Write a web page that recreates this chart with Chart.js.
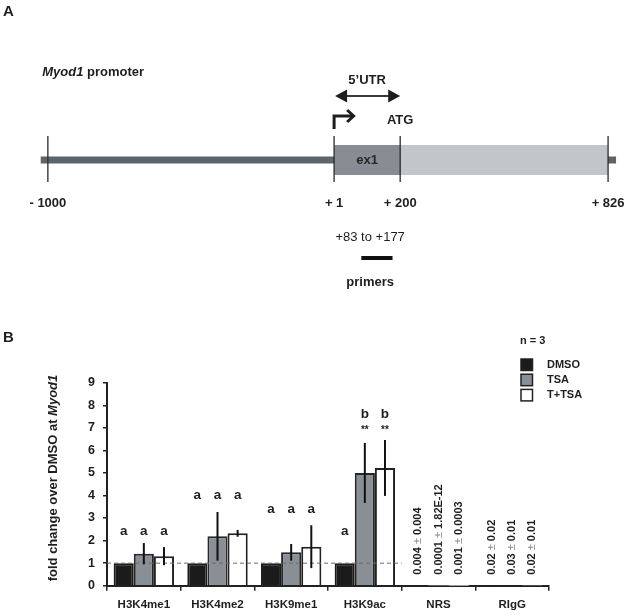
<!DOCTYPE html>
<html>
<head>
<meta charset="utf-8">
<script src="https://cdn.jsdelivr.net/npm/chart.js@4.4.1/dist/chart.umd.min.js"></script>
<style>
  html, body { margin: 0; padding: 0; background: #fff; }
  #wrap { position: relative; width: 628px; height: 615px; }
  #geneMap { position: absolute; left: 0; top: 0; }
  #foldChange { position: absolute; left: 0; top: 300px; }
</style>
</head>
<body>
<div id="wrap">
  <canvas id="geneMap" width="628" height="300"></canvas>
  <canvas id="foldChange" width="628" height="315"></canvas>
</div>
<script>
// ---- panel A: Myod1 promoter map, positions relative to TSS (+1)
const siteMarks = [-1000, 1, 200, 826];
const backboneSpan = [-1025, 850];
const exon1Span = [1, 200];
const downstreamSpan = [200, 826];
const primerSpan = [83, 177];

// ---- panel B: fold change over DMSO at Myod1
const categories = ["H3K4me1", "H3K4me2", "H3K9me1", "H3K9ac", "NRS", "RIgG"];
const seriesNames = ["DMSO", "TSA", "T+TSA"];
const dmsoValues = [1, 1, 1, 1, 0.004, 0.02];
const dmsoErrors = [0, 0, 0, 0, 0.004, 0.02];
const tsaValues = [1.42, 2.19, 1.48, 5.0, 0.0001, 0.03];
const tsaErrors = [0.47, 1.08, 0.37, 1.33, 1.82e-12, 0.01];
const ttsaValues = [1.31, 2.32, 1.73, 5.22, 0.001, 0.02];
const ttsaErrors = [0.4, 0.15, 0.95, 1.24, 0.0003, 0.01];
const dmsoLetters = ["a", "a", "a", "a", "", ""];
const tsaLetters = ["a", "a", "a", "b", "", ""];
const ttsaLetters = ["a", "a", "a", "b", "", ""];
const dmsoLetterLevels = [2.4, 4.0, 3.4, 2.4, 0, 0];
const tsaLetterLevels = [2.4, 4.0, 3.4, 7.6, 0, 0];
const ttsaLetterLevels = [2.4, 4.0, 3.4, 7.6, 0, 0];
const tsaStars = ["", "", "", "**", "", ""];
const ttsaStars = ["", "", "", "**", "", ""];
const starLevel = 6.9;
const sampleSize = 3;
const yTicks = [0, 1, 2, 3, 4, 5, 6, 7, 8, 9];

const FONT = "'Liberation Sans', Arial, Helvetica, sans-serif";
const INK = "#1e1e1e";

// the promoter is drawn shorter than the transcribed part in the figure
const PROMOTER_SQUEEZE = 0.861;
class SchematicScale extends Chart.LinearScale {
  getPixelForValue(value) {
    const v = value < 1 ? 1 + (value - 1) * PROMOTER_SQUEEZE : value;
    return super.getPixelForValue(v);
  }
}
SchematicScale.id = "schematic";
SchematicScale.defaults = Chart.LinearScale.defaults;
Chart.register(SchematicScale);

// rows of the map (track units, top = 0)
const ROW = {
  title: 2.43, utrText: 2.67, utrArrow: 3.2, atg: 4.03,
  tickTop: 4.53, gene: 5.33, tickBottom: 6.07, tickLabel: 6.77,
  primerText: 7.92, primerBar: 8.6, primerLabel: 9.4,
};

function seg(span, row) {
  return span.map((x) => ({ x: x, y: row }));
}

const geneMapDecor = {
  id: "geneMapDecor",
  afterDatasetsDraw(chart) {
    const ctx = chart.ctx;
    const px = (v) => chart.scales.x.getPixelForValue(v);
    const py = (r) => chart.scales.y.getPixelForValue(r);
    ctx.save();
    ctx.fillStyle = INK;
    ctx.strokeStyle = INK;
    ctx.textBaseline = "middle";

    ctx.textAlign = "left";
    ctx.font = "bold 15px " + FONT;
    ctx.fillText("A", 3, 12);

    let tx = px(backboneSpan[0]) + 1.5;
    ctx.font = "italic bold 13px " + FONT;
    ctx.fillText("Myod1", tx, py(ROW.title));
    tx += ctx.measureText("Myod1").width;
    ctx.font = "bold 13px " + FONT;
    ctx.fillText(" promoter", tx, py(ROW.title));

    // 5'UTR double arrow
    const u0 = px(exon1Span[0]) + 1;
    const u1 = px(exon1Span[1]);
    const uy = py(ROW.utrArrow);
    const mid = (px(exon1Span[0]) + px(exon1Span[1])) / 2;
    ctx.lineWidth = 2;
    ctx.strokeStyle = "#3a3a3a";
    ctx.beginPath();
    ctx.moveTo(u0 + 8, uy);
    ctx.lineTo(u1 - 8, uy);
    ctx.stroke();
    ctx.beginPath();
    ctx.moveTo(u0, uy);
    ctx.lineTo(u0 + 12, uy - 6.5);
    ctx.lineTo(u0 + 12, uy + 6.5);
    ctx.closePath();
    ctx.moveTo(u1, uy);
    ctx.lineTo(u1 - 12, uy - 6.5);
    ctx.lineTo(u1 - 12, uy + 6.5);
    ctx.closePath();
    ctx.fill();
    ctx.textAlign = "center";
    ctx.font = "bold 13px " + FONT;
    ctx.fillText("5\u2019UTR", mid, py(ROW.utrText));

    // transcription start arrow
    const sx = px(1);
    ctx.strokeStyle = INK;
    ctx.lineWidth = 3;
    ctx.lineJoin = "miter";
    ctx.beginPath();
    ctx.moveTo(sx, 129);
    ctx.lineTo(sx, 116);
    ctx.lineTo(sx + 18, 116);
    ctx.stroke();
    ctx.beginPath();
    ctx.moveTo(sx + 13, 110);
    ctx.lineTo(sx + 19.5, 116);
    ctx.lineTo(sx + 13, 122);
    ctx.stroke();

    ctx.fillText("ATG", px(200), py(ROW.atg));
    ctx.fillStyle = "#262626";
    ctx.font = "bold 13px " + FONT;
    ctx.fillText("ex1", mid, py(ROW.gene) + 1);

    ctx.fillStyle = INK;
    siteMarks.forEach((s) => {
      const label = s < 0 ? "- " + Math.abs(s) : "+ " + s;
      ctx.fillText(label, px(s), py(ROW.tickLabel));
    });
    ctx.font = "13px " + FONT;
    ctx.fillText("+" + primerSpan[0] + " to +" + primerSpan[1], mid + 3, py(ROW.primerText));
    ctx.font = "bold 13px " + FONT;
    ctx.fillText("primers", mid + 3, py(ROW.primerLabel));
    ctx.restore();
  },
};

new Chart(document.getElementById("geneMap"), {
  type: "line",
  data: {
    datasets: [
      { data: seg(backboneSpan, ROW.gene), borderColor: "#5f6468", borderWidth: 7, order: 3 },
      { data: seg(exon1Span, ROW.gene), borderColor: "#888d93", borderWidth: 30, order: 2 },
      { data: seg(downstreamSpan, ROW.gene), borderColor: "#c2c5c9", borderWidth: 30, order: 2 },
      ...siteMarks.map((s) => ({
        data: [{ x: s, y: ROW.tickTop }, { x: s, y: ROW.tickBottom }],
        borderColor: "#2b2b2b",
        borderWidth: 1.3,
        order: 1,
      })),
      { data: seg(primerSpan, ROW.primerBar), borderColor: "#111", borderWidth: 4, order: 1 },
    ],
  },
  options: {
    responsive: false,
    animation: false,
    layout: { padding: 0 },
    elements: {
      point: { radius: 0, hoverRadius: 0 },
      line: { borderCapStyle: "butt", tension: 0, fill: false },
    },
    plugins: { legend: { display: false }, tooltip: { enabled: false } },
    scales: {
      // range in drawn (squeezed) units
      x: { type: "schematic", min: -1005, max: 886, display: false },
      y: { type: "linear", min: 0, max: 10, reverse: true, display: false },
    },
  },
  plugins: [geneMapDecor],
});

// ---- panel B
function fmt(v) {
  return String(v).toUpperCase();
}

const foldChangeDecor = {
  id: "foldChangeDecor",
  afterDatasetsDraw(chart) {
    const ctx = chart.ctx;
    const xs = chart.scales.x;
    const ys = chart.scales.y;
    const area = chart.chartArea;
    ctx.save();

    // dashed line at DMSO level across the histone marks
    const dashEnd = (xs.getPixelForValue(3) + xs.getPixelForValue(4)) / 2;
    ctx.setLineDash([4, 3]);
    ctx.strokeStyle = "#6a6a6a";
    ctx.lineWidth = 1;
    ctx.beginPath();
    ctx.moveTo(area.left, ys.getPixelForValue(1));
    ctx.lineTo(dashEnd, ys.getPixelForValue(1));
    ctx.stroke();
    ctx.setLineDash([]);

    chart.data.datasets.forEach((ds, di) => {
      const meta = chart.getDatasetMeta(di);
      meta.data.forEach((bar, i) => {
        const v = ds.data[i];
        const e = ds.errors[i];
        if (v < 0.1) {
          ctx.save();
          ctx.translate(bar.x, ys.getPixelForValue(0) - 11);
          ctx.rotate(-Math.PI / 2);
          ctx.textAlign = "left";
          ctx.textBaseline = "middle";
          let t = 0;
          ctx.font = "bold 11px " + FONT;
          ctx.fillStyle = INK;
          ctx.fillText(fmt(v), t, 0);
          t += ctx.measureText(fmt(v)).width;
          ctx.font = "11px " + FONT;
          ctx.fillStyle = "#8a8a8a";
          ctx.fillText(" \u00b1 ", t, 0);
          t += ctx.measureText(" \u00b1 ").width;
          ctx.font = "bold 11px " + FONT;
          ctx.fillStyle = INK;
          ctx.fillText(fmt(e), t, 0);
          ctx.restore();
          return;
        }
        if (e > 0) {
          ctx.strokeStyle = "#111";
          ctx.lineWidth = 2;
          ctx.beginPath();
          ctx.moveTo(bar.x, ys.getPixelForValue(v - e));
          ctx.lineTo(bar.x, ys.getPixelForValue(v + e));
          ctx.stroke();
        }
        ctx.fillStyle = INK;
        ctx.textAlign = "center";
        ctx.textBaseline = "middle";
        if (ds.letters[i]) {
          ctx.font = "bold 13.5px " + FONT;
          ctx.fillText(ds.letters[i], bar.x, ys.getPixelForValue(ds.letterLevels[i]));
        }
        if (ds.stars && ds.stars[i]) {
          ctx.font = "bold 10px " + FONT;
          ctx.fillText(ds.stars[i], bar.x, ys.getPixelForValue(starLevel));
        }
      });
    });
    ctx.restore();
  },
  afterDraw(chart) {
    const ctx = chart.ctx;
    ctx.save();
    ctx.fillStyle = INK;
    ctx.textBaseline = "middle";
    ctx.textAlign = "left";
    ctx.font = "bold 15px " + FONT;
    ctx.fillText("B", 3, 38);

    // legend
    ctx.font = "bold 11px " + FONT;
    ctx.fillText("n = " + sampleSize, 520, 41);
    chart.data.datasets.forEach((ds, i) => {
      const top = 59 + i * 15.2;
      ctx.fillStyle = ds.backgroundColor;
      ctx.fillRect(521, top, 11.5, 11.5);
      ctx.strokeStyle = "#222";
      ctx.lineWidth = 1.5;
      ctx.strokeRect(521, top, 11.5, 11.5);
      ctx.fillStyle = INK;
      ctx.fillText(ds.label, 547, top + 6);
    });

    // y axis title with italic gene name
    const a = "fold change over DMSO at ";
    const b = "Myod1";
    ctx.font = "bold 13px " + FONT;
    const wa = ctx.measureText(a).width;
    ctx.font = "italic bold 13px " + FONT;
    const wb = ctx.measureText(b).width;
    ctx.translate(53, 178);
    ctx.rotate(-Math.PI / 2);
    ctx.font = "bold 13px " + FONT;
    ctx.fillText(a, -(wa + wb) / 2, 0);
    ctx.font = "italic bold 13px " + FONT;
    ctx.fillText(b, -(wa + wb) / 2 + wa, 0);
    ctx.restore();
  },
};

new Chart(document.getElementById("foldChange"), {
  type: "bar",
  data: {
    labels: categories,
    datasets: [
      {
        label: seriesNames[0], data: dmsoValues, errors: dmsoErrors,
        letters: dmsoLetters, letterLevels: dmsoLetterLevels,
        backgroundColor: "#1b1b1b", borderColor: "#1b1b1b",
      },
      {
        label: seriesNames[1], data: tsaValues, errors: tsaErrors,
        letters: tsaLetters, letterLevels: tsaLetterLevels, stars: tsaStars,
        backgroundColor: "#8a8f95", borderColor: "#262626",
      },
      {
        label: seriesNames[2], data: ttsaValues, errors: ttsaErrors,
        letters: ttsaLetters, letterLevels: ttsaLetterLevels, stars: ttsaStars,
        backgroundColor: "#ffffff", borderColor: "#222222",
      },
    ],
  },
  options: {
    responsive: false,
    animation: false,
    categoryPercentage: 0.82,
    barPercentage: 1,
    layout: { padding: { left: 67, right: 79, top: 82.7, bottom: 0 } },
    elements: {
      bar: {
        borderWidth: (c) => (c.raw < 0.1 ? 0 : 2),
        borderSkipped: "bottom",
      },
    },
    plugins: { legend: { display: false }, tooltip: { enabled: false } },
    scales: {
      x: {
        grid: { drawOnChartArea: false, drawTicks: true, tickLength: 5, color: "#222", lineWidth: 1.5, offset: true },
        border: { display: true, color: "#222", width: 2 },
        ticks: { color: INK, font: { family: FONT, size: 11.5, weight: "bold" }, maxRotation: 0, padding: 7 },
        afterFit: (s) => { s.height = 29.3; },
      },
      y: {
        min: 0,
        max: 9,
        afterBuildTicks: (s) => { s.ticks = yTicks.map((v) => ({ value: v })); },
        grid: { drawOnChartArea: false, drawTicks: true, tickLength: 4, color: "#222", lineWidth: 1.5 },
        border: { display: true, color: "#222", width: 2 },
        ticks: { color: INK, font: { family: FONT, size: 12.5, weight: "bold" }, padding: 8 },
        afterFit: (s) => { s.width = 40; },
      },
    },
  },
  plugins: [foldChangeDecor],
});
</script>
</body>
</html>
